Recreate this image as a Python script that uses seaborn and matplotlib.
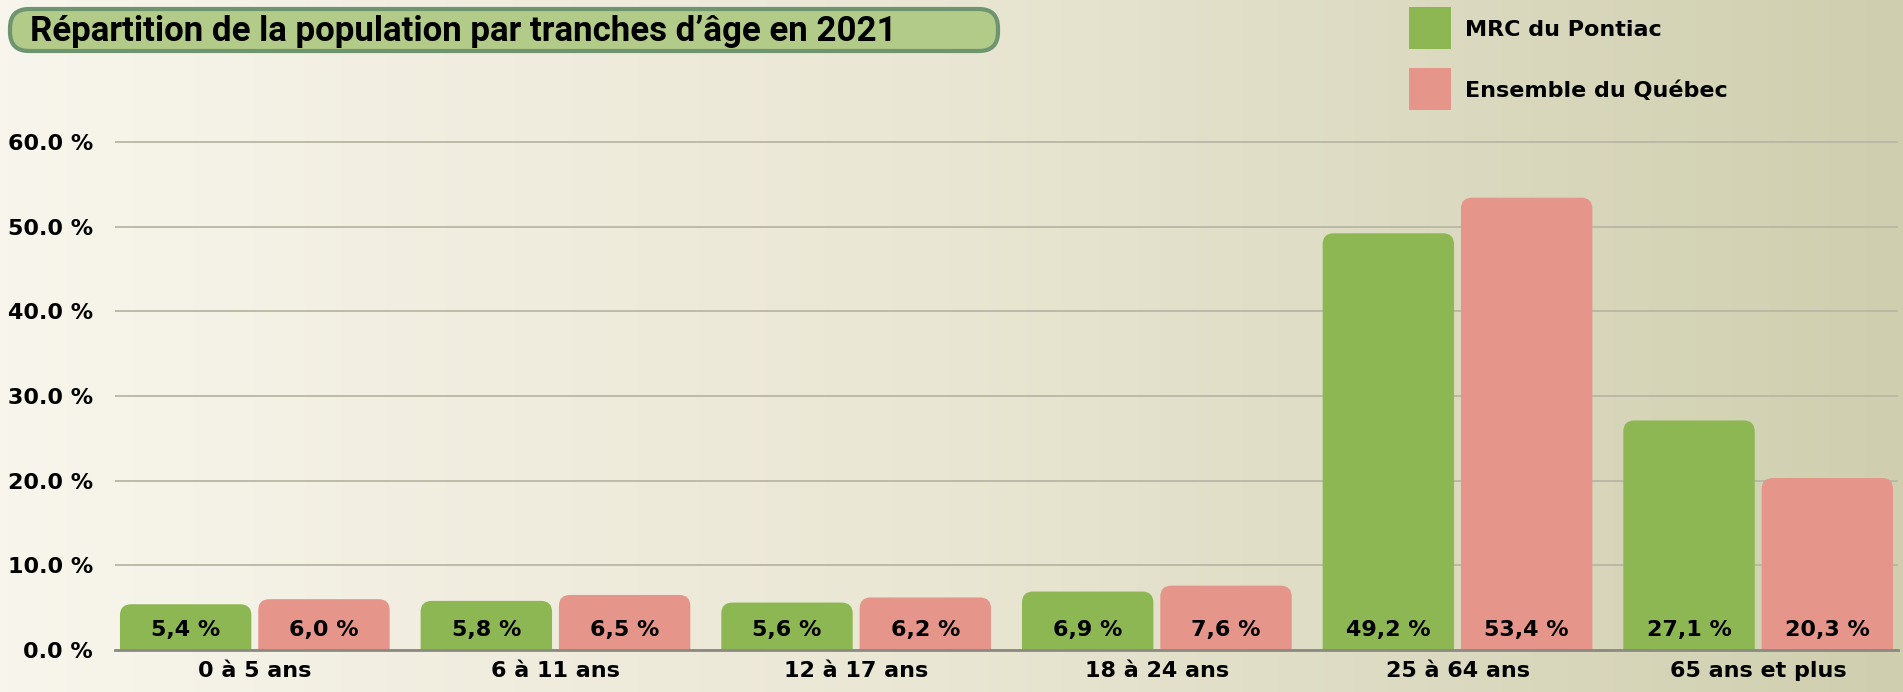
import numpy as np
import pandas as pd
import matplotlib
matplotlib.use("Agg")
import matplotlib.pyplot as plt
import seaborn as sns
from matplotlib.patches import FancyBboxPatch, Rectangle
from matplotlib.colors import LinearSegmentedColormap
from matplotlib import font_manager

# ---- data ----
categories = ["0 à 5 ans", "6 à 11 ans", "12 à 17 ans", "18 à 24 ans", "25 à 64 ans", "65 ans et plus"]
series_names = ["MRC du Pontiac", "Ensemble du Québec"]
pontiac = [5.4, 5.8, 5.6, 6.9, 49.2, 27.1]
quebec = [6.0, 6.5, 6.2, 7.6, 53.4, 20.3]
yticks = [0, 10, 20, 30, 40, 50, 60]
title = "Répartition de la population par tranches d’âge en 2021"

GREEN = "#8DB752"
RED = "#E5958A"

df = pd.DataFrame({
    "cat": categories * 2,
    "series": [series_names[0]] * len(categories) + [series_names[1]] * len(categories),
    "val": pontiac + quebec,
})

sns.set_theme(style="white")
plt.rcParams["font.family"] = ["DejaVu Sans"]
plt.rcParams["font.weight"] = "bold"

avail = {f.name for f in font_manager.fontManager.ttflist}
title_font = "DejaVu Sans"
for cand in ["Roboto", "Lato", "Liberation Sans"]:
    if cand in avail:
        title_font = cand
        break

W, H = 1903, 692
fig = plt.figure(figsize=(W / 100, H / 100), dpi=100)

# background gradient
bg = fig.add_axes([0, 0, 1, 1], zorder=-10)
cmap = LinearSegmentedColormap.from_list("bg", ["#F8F5EC", "#E9E6D3", "#CFCFAF"])
bg.imshow(np.linspace(0, 1, 512)[None, :], aspect="auto", cmap=cmap, extent=[0, 1, 0, 1])
bg.axis("off")

# main axes (pixel-based placement)
ax_left, ax_right = 115, 1898
base_y, ppu = 650, 8.47
ymax = 62
ax = fig.add_axes([ax_left / W, (H - base_y) / H, (ax_right - ax_left) / W, ymax * ppu / H])
ax.patch.set_alpha(0)

sns.barplot(data=df, x="cat", y="val", hue="series", palette=[GREEN, RED],
            width=0.92, gap=0.05, saturation=1, ax=ax, legend=False)

ax.set_xlim(-0.465, 5.465)
ax.set_ylim(0, ymax)

# replace rectangles by bars with rounded top corners
px_per_x = (ax_right - ax_left) / (5.465 + 0.465)
r_px = 11
rx = r_px / px_per_x
ry = r_px / ppu
for p in list(ax.patches):
    x, w, h = p.get_x(), p.get_width(), p.get_height()
    fc = p.get_facecolor()
    p.set_visible(False)
    ax.add_patch(FancyBboxPatch((x, -ry), w, h + ry,
                                boxstyle=f"round,pad=0,rounding_size={rx}",
                                mutation_aspect=ry / rx, fc=fc, ec="none",
                                zorder=2, clip_on=True))

# value labels
for cont, vals in zip(ax.containers, [pontiac, quebec]):
    for bar, v in zip(cont, vals):
        ax.text(bar.get_x() + bar.get_width() / 2, 2.4,
                f"{v:.1f} %".replace(".", ","), ha="center", va="center",
                fontsize=16, fontweight="bold", color="black", zorder=3)

ax.set_yticks(yticks)
ax.set_yticklabels([f"{v:.1f} %" for v in yticks], fontsize=16, fontweight="bold")
ax.set_xticks(range(len(categories)))
ax.set_xticklabels(categories, fontsize=16, fontweight="bold")
ax.set_xlabel("")
ax.set_ylabel("")
ax.tick_params(axis="y", length=0, pad=16, colors="black")
ax.tick_params(axis="x", length=0, pad=8, colors="black")
ax.yaxis.grid(True, color="#B8B7A5", lw=1.3)
ax.xaxis.grid(False)
ax.set_axisbelow(True)
for s in ["left", "right", "top"]:
    ax.spines[s].set_visible(False)
ax.spines["bottom"].set_color("#8A8A82")
ax.spines["bottom"].set_linewidth(2)
ax.spines["bottom"].set_zorder(4)

# overlay in pixel coordinates for title box and legend
ov = fig.add_axes([0, 0, 1, 1], zorder=5)
ov.set_xlim(0, W)
ov.set_ylim(H, 0)
ov.axis("off")
ov.patch.set_alpha(0)

ov.add_patch(FancyBboxPatch((10, 9), 988, 42,
                            boxstyle="round,pad=0,rounding_size=19",
                            fc="#B3CB89", ec="#6F9470", lw=3))
ttl = ov.text(30, 31, title, ha="left", va="center", fontsize=24,
              fontweight="bold", family=title_font, color="black")
# fit the title width to about 868 px
renderer = fig.canvas.get_renderer()
tw = ttl.get_window_extent(renderer=renderer).width
ttl.set_fontsize(max(19, min(26, 24 * 868 / tw)))

leg_items = [(GREEN, series_names[0], 7), (RED, series_names[1], 68)]
for col, name, y0 in leg_items:
    ov.add_patch(Rectangle((1409, y0), 42, 42, fc=col, ec="none"))
    ov.text(1465, y0 + 23, name, ha="left", va="center", fontsize=16,
            fontweight="bold", color="black")

fig.savefig("out.png", dpi=100)
